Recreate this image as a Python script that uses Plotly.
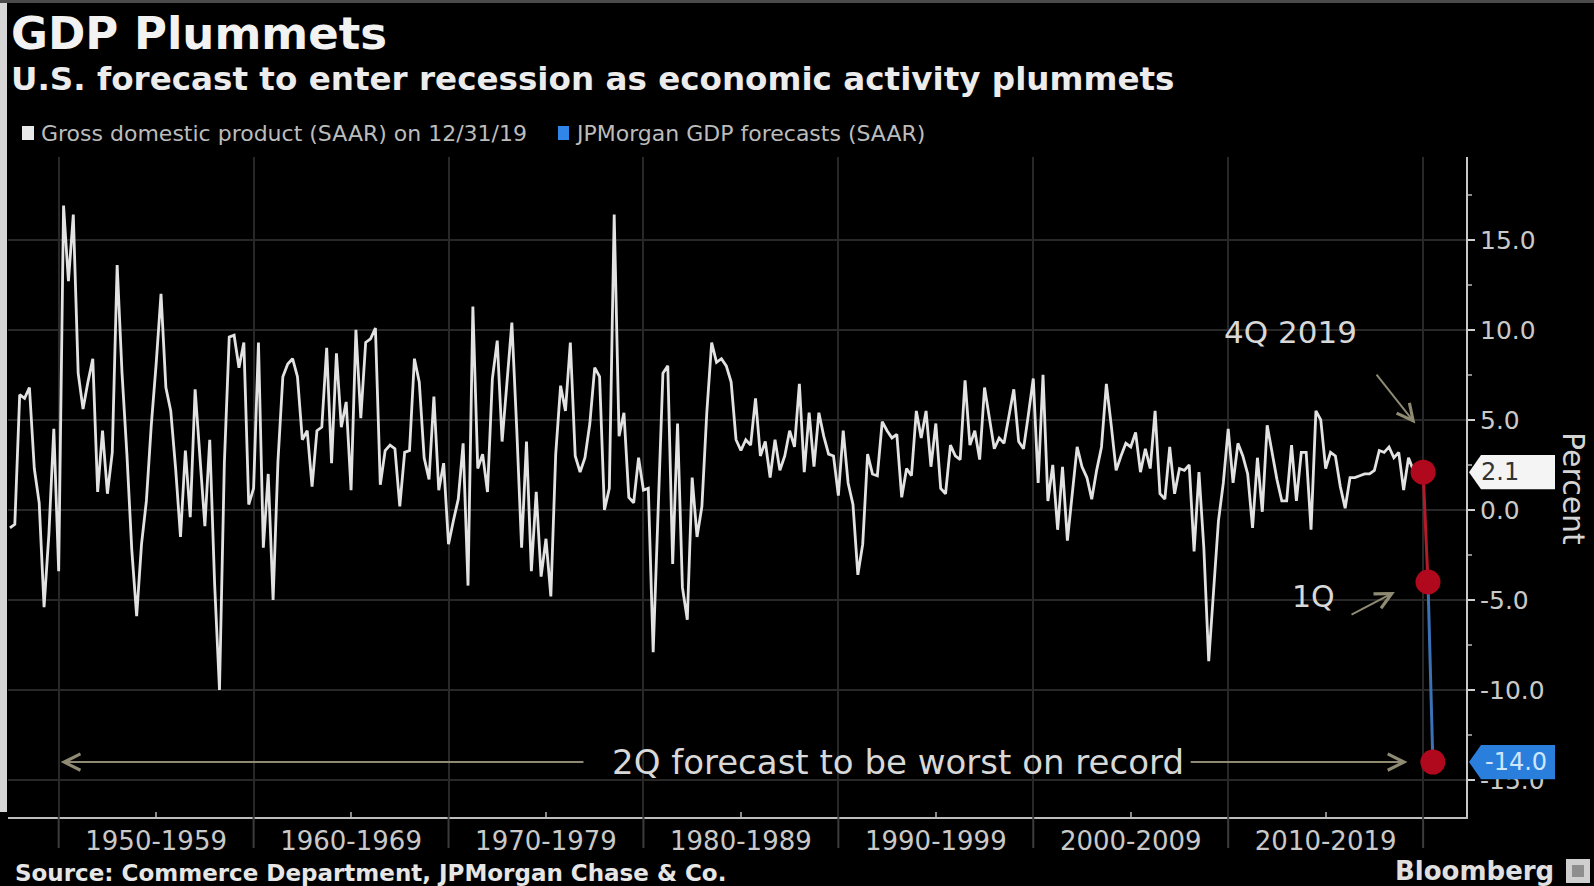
import plotly.graph_objects as go

# ---------------- data (quarterly real GDP growth, SAAR, %) ----------------
start_year = 1947
start_quarter = 2

gdp_1940s = [-1.0, -0.8, 6.4,
             6.2, 6.8, 2.3, 0.4,
             -5.4, -1.3, 4.5, -3.4]
gdp_1950s = [16.9, 12.7, 16.4, 7.6,
             5.6, 7.1, 8.4, 1.0,
             4.4, 0.9, 3.2, 13.6,
             7.6, 3.1, -2.2, -5.9,
             -1.9, 0.5, 4.7, 8.1,
             12.0, 6.8, 5.5, 2.3,
             -1.5, 3.3, -0.4, 6.7,
             2.6, -0.9, 3.9, -4.1,
             -10.0, 2.6, 9.6, 9.7,
             7.9, 9.3, 0.3, 1.2]
gdp_1960s = [9.3, -2.1, 2.0, -5.0,
             2.7, 7.4, 8.1, 8.4,
             7.4, 3.9, 4.4, 1.3,
             4.4, 4.6, 9.0, 2.6,
             8.7, 4.6, 6.0, 1.1,
             10.0, 5.1, 9.3, 9.5,
             10.1, 1.4, 3.3, 3.6,
             3.4, 0.2, 3.2, 3.3,
             8.4, 7.1, 2.9, 1.7,
             6.3, 1.1, 2.6, -1.9]
gdp_1970s = [-0.6, 0.6, 3.7, -4.2,
             11.3, 2.3, 3.1, 1.0,
             7.3, 9.4, 3.8, 6.9,
             10.4, 4.5, -2.1, 3.8,
             -3.4, 1.0, -3.7, -1.6,
             -4.8, 3.1, 6.9, 5.5,
             9.3, 3.0, 2.1, 2.9,
             4.8, 7.9, 7.4, 0.0,
             1.2, 16.4, 4.1, 5.4,
             0.7, 0.4, 2.9, 1.1]
gdp_1980s = [1.2, -7.9, -0.5, 7.6,
             8.0, -3.0, 4.8, -4.3,
             -6.1, 1.8, -1.5, 0.2,
             5.4, 9.3, 8.2, 8.4,
             8.0, 7.1, 3.9, 3.3,
             3.9, 3.6, 6.2, 3.0,
             3.8, 1.8, 3.9, 2.2,
             3.0, 4.4, 3.5, 7.0,
             2.1, 5.4, 2.4, 5.4,
             4.1, 3.1, 3.0, 0.8]
gdp_1990s = [4.4, 1.5, 0.3, -3.6,
             -1.9, 3.1, 2.0, 1.9,
             4.9, 4.4, 4.0, 4.2,
             0.7, 2.3, 1.9, 5.5,
             4.0, 5.5, 2.4, 4.8,
             1.2, 0.9, 3.6, 3.0,
             2.8, 7.2, 3.6, 4.4,
             2.8, 6.8, 5.1, 3.4,
             4.0, 3.7, 5.2, 6.7,
             3.8, 3.4, 5.3, 7.3]
gdp_2000s = [1.5, 7.5, 0.5, 2.5,
             -1.1, 2.4, -1.7, 1.1,
             3.5, 2.4, 1.8, 0.6,
             2.2, 3.5, 7.0, 4.7,
             2.2, 3.0, 3.7, 3.5,
             4.3, 2.1, 3.4, 2.3,
             5.5, 0.9, 0.6, 3.5,
             0.9, 2.3, 2.2, 2.5,
             -2.3, 2.1, -2.1, -8.4,
             -4.4, -0.6, 1.5, 4.5]
gdp_2010s = [1.5, 3.7, 3.0, 2.0,
             -1.0, 2.9, -0.1, 4.7,
             3.2, 1.7, 0.5, 0.5,
             3.6, 0.5, 3.2, 3.2,
             -1.1, 5.5, 5.0, 2.3,
             3.2, 3.0, 1.3, 0.1,
             1.8, 1.8, 1.9, 2.0,
             2.0, 2.2, 3.3, 3.2,
             3.5, 2.9, 3.2, 1.1,
             2.9, 2.2, 2.1, 2.1]

forecast_labels = ["4Q 2019", "1Q 2020", "2Q 2020"]
forecast_years = [2019, 2020, 2020]
forecast_quarters = [4, 1, 2]
forecast_values = [2.1, -4.0, -14.0]

decade_starts = [1950, 1960, 1970, 1980, 1990, 2000, 2010]
decade_labels = ["1950-1959", "1960-1969", "1970-1979", "1980-1989",
                 "1990-1999", "2000-2009", "2010-2019"]
y_ticks = [-15, -10, -5, 0, 5, 10, 15]
y_tick_labels = ["-15.0", "-10.0", "-5.0", "0.0", "5.0", "10.0", "15.0"]

# ---------------- build ----------------
gdp = gdp_1940s + gdp_1950s + gdp_1960s + gdp_1970s + gdp_1980s + gdp_1990s + gdp_2000s + gdp_2010s
first = start_year + start_quarter / 4.0          # quarter plotted at its end
x_hist = [first + i * 0.25 for i in range(len(gdp))]
x_fc = [y + q / 4.0 for y, q in zip(forecast_years, forecast_quarters)]

W, H = 1594, 886
def px(v):
    return v / W
def py(v):
    return 1 - v / H

BG = "#000000"
GRID = "#282828"
TXT = "#c9c9c9"
ARROW = "#8f8a72"
FONT = "DejaVu Sans"

fig = go.Figure()
fig.add_trace(go.Scatter(x=x_hist, y=gdp, mode="lines",
                         line=dict(color="#e2e2e2", width=2.8),
                         hoverinfo="skip", showlegend=False))
fig.add_trace(go.Scatter(x=x_fc[0:2], y=forecast_values[0:2], mode="lines",
                         line=dict(color="#b51a2b", width=3),
                         hoverinfo="skip", showlegend=False))
fig.add_trace(go.Scatter(x=x_fc[1:3], y=forecast_values[1:3], mode="lines",
                         line=dict(color="#3a72b5", width=3),
                         hoverinfo="skip", showlegend=False))
fig.add_trace(go.Scatter(x=x_fc, y=forecast_values, mode="markers",
                         marker=dict(color="#b0081c", size=25),
                         hoverinfo="skip", showlegend=False))

x_domain = [px(8), px(1466)]
y_domain = [py(817), py(157)]

fig.update_layout(
    width=W, height=H,
    paper_bgcolor=BG, plot_bgcolor=BG,
    margin=dict(l=0, r=0, t=0, b=0),
    showlegend=False,
    xaxis=dict(
        domain=x_domain, range=[1947.4, 2022.2],
        tickmode="array", tickvals=[d + 5 for d in decade_starts], ticktext=decade_labels,
        tickfont=dict(family=FONT, size=26, color=TXT),
        ticks="inside", ticklen=5, tickwidth=2, tickcolor="#8a8a8a",
        showgrid=False, zeroline=False,
        showline=True, linecolor="#bdbdbd", linewidth=2,
        minor=dict(tickmode="array", tickvals=decade_starts + [2020],
                   showgrid=True, gridcolor=GRID, gridwidth=2, ticks=""),
    ),
    yaxis=dict(
        domain=y_domain, range=[-17.05, 19.6], side="right", anchor="x",
        tickmode="array", tickvals=y_ticks, ticktext=y_tick_labels,
        tickfont=dict(family=FONT, size=25, color=TXT),
        ticks="outside", ticklen=7, tickwidth=2, tickcolor="#cfcfcf",
        showgrid=True, gridcolor=GRID, gridwidth=2, zeroline=False,
        showline=True, linecolor="#c8c8c8", linewidth=2,
        minor=dict(tickmode="array", tickvals=[-12.5, -7.5, -2.5, 2.5, 7.5, 12.5, 17.5],
                   ticks="outside", ticklen=4, tickcolor="#8a8a8a", showgrid=False),
    ),
)

shapes = []
# decade separators running below the axis through the label row
for d in decade_starts + [2020]:
    shapes.append(dict(type="line", xref="x", yref="paper", x0=d, x1=d,
                       y0=py(817), y1=py(848), line=dict(color="#3c3c3c", width=2)))
# left light border and top border of the original graphic
shapes.append(dict(type="rect", xref="paper", yref="paper", x0=0, x1=px(7),
                   y0=py(812), y1=1, fillcolor="#d6d6d6", line=dict(width=0)))
shapes.append(dict(type="rect", xref="paper", yref="paper", x0=0, x1=1,
                   y0=py(3), y1=1, fillcolor="#4a4a4a", line=dict(width=0)))
# legend squares
shapes.append(dict(type="rect", xref="paper", yref="paper", x0=px(22), x1=px(34),
                   y0=py(140), y1=py(126), fillcolor="#e8e8e8", line=dict(width=0)))
shapes.append(dict(type="rect", xref="paper", yref="paper", x0=px(558), x1=px(569),
                   y0=py(140), y1=py(126), fillcolor="#2f86e8", line=dict(width=0)))

# value tags on the right axis
def tag_path(value, half=0.95):
    xt, xc, xr = px(1469), px(1481), px(1555)
    return (f"M {xt},{value} L {xc},{value + half} L {xr},{value + half} "
            f"L {xr},{value - half} L {xc},{value - half} Z")

shapes.append(dict(type="path", xref="paper", yref="y", path=tag_path(forecast_values[0]),
                   fillcolor="#f4f4f4", line=dict(width=0), layer="above"))
shapes.append(dict(type="path", xref="paper", yref="y", path=tag_path(forecast_values[2]),
                   fillcolor="#2a7fdc", line=dict(width=0), layer="above"))
# Bloomberg icon
shapes.append(dict(type="rect", xref="paper", yref="paper", x0=px(1566), x1=px(1590),
                   y0=py(883), y1=py(859), fillcolor="#cfcfcf", line=dict(width=0)))
shapes.append(dict(type="rect", xref="paper", yref="paper", x0=px(1572), x1=px(1584),
                   y0=py(877), y1=py(865), fillcolor="#8e8e8e", line=dict(width=0)))
fig.update_layout(shapes=shapes)

ann = []
def label(x, y, text, size, color="#e0e0e0", bold=False, xanchor="left", family=FONT, **kw):
    t = f"<b>{text}</b>" if bold else text
    ann.append(dict(xref="paper", yref="paper", x=px(x), y=py(y), text=t, showarrow=False,
                    xanchor=xanchor, yanchor="middle",
                    font=dict(family=family, size=size, color=color), **kw))

label(9, 33, "GDP Plummets", 45, "#f2f2f2", bold=True)
label(9, 79, "U.S. forecast to enter recession as economic activity plummets", 32.6, "#ececec", bold=True)
label(39, 133, "Gross domestic product (SAAR) on 12/31/19", 22, "#bcbcbc")
label(573, 133, "JPMorgan GDP forecasts (SAAR)", 22, "#bcbcbc")
label(13, 873, "Source: Commerce Department, JPMorgan Chase & Co.", 23, "#e6e6e6", bold=True)
label(1556, 871, "Bloomberg", 26, "#e0e0e0", bold=True, xanchor="right")
label(1574, 488, "Percent", 30, "#d4d4d4", xanchor="center", textangle=90)

# tag texts
ann.append(dict(xref="paper", yref="y", x=px(1500), y=forecast_values[0], text="2.1",
                showarrow=False, xanchor="center", yanchor="middle",
                font=dict(family=FONT, size=24, color="#333333")))
ann.append(dict(xref="paper", yref="y", x=px(1516), y=forecast_values[2], text="-14.0",
                showarrow=False, xanchor="center", yanchor="middle",
                font=dict(family=FONT, size=24, color="#cfe6ff")))

# call-out texts
def data_text(x, y, text, size):
    ann.append(dict(xref="x", yref="y", x=x, y=y, text=text, showarrow=False,
                    xanchor="center", yanchor="middle",
                    font=dict(family=FONT, size=size, color="#d8d8d8")))

data_text(2013.2, 9.9, "4Q 2019", 31)
data_text(2014.4, -4.8, "1Q", 30)
data_text(1993.05, forecast_values[2], "2Q forecast to be worst on record", 34)

def arrow(x_head, y_head, x_tail, y_tail):
    ann.append(dict(xref="x", yref="y", axref="x", ayref="y",
                    x=x_head, y=y_head, ax=x_tail, ay=y_tail, text="",
                    showarrow=True, arrowhead=5, arrowsize=1.6, arrowwidth=2,
                    arrowcolor=ARROW))

arrow(2019.6, 4.8, 2017.55, 7.6)
arrow(2018.55, -4.55, 2016.25, -5.85)
arrow(1950.1, forecast_values[2], 1977.0, forecast_values[2])
arrow(2019.2, forecast_values[2], 2008.0, forecast_values[2])

fig.update_layout(annotations=ann)
fig.write_html("out.html",
               config={"displayModeBar": False},
               post_script="document.body.style.margin='0';document.body.style.overflow='hidden';")
